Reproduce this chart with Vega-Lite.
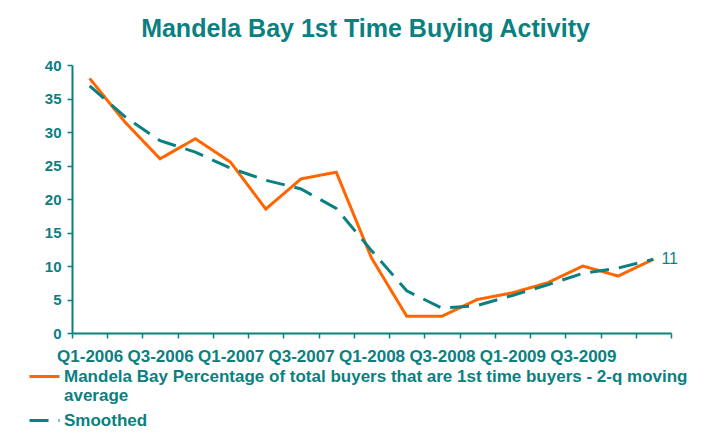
{
  "$schema": "https://vega.github.io/schema/vega-lite/v6.json",
  "width": 599,
  "height": 268,
  "autosize": {"type": "none"},
  "padding": {"left": 72, "top": 65, "right": 36, "bottom": 100},
  "background": "white",
  "title": {
    "text": "Mandela Bay 1st Time Buying Activity",
    "fontSize": 25,
    "font": "Liberation Sans",
    "fontWeight": "bold",
    "color": "#0B8080",
    "anchor": "middle",
    "dx": -6,
    "offset": 16
  },
  "config": {
    "view": {"stroke": null},
    "font": "Liberation Sans",
    "axis": {
      "grid": false,
      "domainColor": "#0B8080",
      "domainWidth": 2,
      "tickColor": "#0B8080",
      "tickWidth": 1.5,
      "tickSize": 5,
      "labelColor": "#0B8080",
      "labelFont": "Liberation Sans",
      "labelFontWeight": "bold",
      "labelFontSize": 15,
      "labelOverlap": false,
      "title": null
    },
    "legend": {
      "orient": "none",
      "legendX": -44,
      "legendY": 295,
      "direction": "vertical",
      "title": null,
      "symbolType": "stroke",
      "symbolSize": 900,
      "symbolStrokeWidth": 3,
      "labelFont": "Liberation Sans",
      "labelFontSize": 17,
      "labelFontWeight": "bold",
      "labelColor": "#0B8080",
      "labelLimit": 1000,
      "labelOffset": 3,
      "rowPadding": 0
    }
  },
  "data": {
    "values": [
      {"q": "Q1-2006", "series": "Mandela Bay Percentage of total buyers that are 1st time buyers - 2-q moving average", "value": 38},
      {"q": "Q2-2006", "series": "Mandela Bay Percentage of total buyers that are 1st time buyers - 2-q moving average", "value": 31.5},
      {"q": "Q3-2006", "series": "Mandela Bay Percentage of total buyers that are 1st time buyers - 2-q moving average", "value": 26},
      {"q": "Q4-2006", "series": "Mandela Bay Percentage of total buyers that are 1st time buyers - 2-q moving average", "value": 29},
      {"q": "Q1-2007", "series": "Mandela Bay Percentage of total buyers that are 1st time buyers - 2-q moving average", "value": 25.5},
      {"q": "Q2-2007", "series": "Mandela Bay Percentage of total buyers that are 1st time buyers - 2-q moving average", "value": 18.5},
      {"q": "Q3-2007", "series": "Mandela Bay Percentage of total buyers that are 1st time buyers - 2-q moving average", "value": 23},
      {"q": "Q4-2007", "series": "Mandela Bay Percentage of total buyers that are 1st time buyers - 2-q moving average", "value": 24},
      {"q": "Q1-2008", "series": "Mandela Bay Percentage of total buyers that are 1st time buyers - 2-q moving average", "value": 11.2},
      {"q": "Q2-2008", "series": "Mandela Bay Percentage of total buyers that are 1st time buyers - 2-q moving average", "value": 2.5},
      {"q": "Q3-2008", "series": "Mandela Bay Percentage of total buyers that are 1st time buyers - 2-q moving average", "value": 2.5},
      {"q": "Q4-2008", "series": "Mandela Bay Percentage of total buyers that are 1st time buyers - 2-q moving average", "value": 5},
      {"q": "Q1-2009", "series": "Mandela Bay Percentage of total buyers that are 1st time buyers - 2-q moving average", "value": 6},
      {"q": "Q2-2009", "series": "Mandela Bay Percentage of total buyers that are 1st time buyers - 2-q moving average", "value": 7.5},
      {"q": "Q3-2009", "series": "Mandela Bay Percentage of total buyers that are 1st time buyers - 2-q moving average", "value": 10},
      {"q": "Q4-2009", "series": "Mandela Bay Percentage of total buyers that are 1st time buyers - 2-q moving average", "value": 8.5},
      {"q": "Q1-2010", "series": "Mandela Bay Percentage of total buyers that are 1st time buyers - 2-q moving average", "value": 11},
      {"q": "Q1-2006", "series": "Smoothed", "value": 36.9},
      {"q": "Q2-2006", "series": "Smoothed", "value": 32.3},
      {"q": "Q3-2006", "series": "Smoothed", "value": 28.7},
      {"q": "Q4-2006", "series": "Smoothed", "value": 27},
      {"q": "Q1-2007", "series": "Smoothed", "value": 24.6},
      {"q": "Q2-2007", "series": "Smoothed", "value": 22.8},
      {"q": "Q3-2007", "series": "Smoothed", "value": 21.5},
      {"q": "Q4-2007", "series": "Smoothed", "value": 18.6},
      {"q": "Q1-2008", "series": "Smoothed", "value": 12.3},
      {"q": "Q2-2008", "series": "Smoothed", "value": 6.3},
      {"q": "Q3-2008", "series": "Smoothed", "value": 3.7},
      {"q": "Q4-2008", "series": "Smoothed", "value": 4.1},
      {"q": "Q1-2009", "series": "Smoothed", "value": 5.6},
      {"q": "Q2-2009", "series": "Smoothed", "value": 7.2},
      {"q": "Q3-2009", "series": "Smoothed", "value": 8.9},
      {"q": "Q4-2009", "series": "Smoothed", "value": 9.7},
      {"q": "Q1-2010", "series": "Smoothed", "value": 11}
    ]
  },
  "encoding": {
    "x": {
      "field": "q",
      "type": "ordinal",
      "sort": null,
      "scale": {"type": "band", "paddingInner": 0, "paddingOuter": 0},
      "axis": {
        "labelAngle": 0,
        "tickBand": "extent",
        "labelPadding": 10,
        "labelFontSize": 17,
        "labelExpr": "indexof(['Q1-2006','Q3-2006','Q1-2007','Q3-2007','Q1-2008','Q3-2008','Q1-2009','Q3-2009'], datum.value) >= 0 ? datum.value : ''"
      }
    },
    "y": {
      "field": "value",
      "type": "quantitative",
      "scale": {"domain": [0, 40]},
      "axis": {"values": [0, 5, 10, 15, 20, 25, 30, 35, 40], "labelPadding": 6}
    }
  },
  "layer": [
    {
      "mark": {"type": "line", "strokeWidth": 3, "strokeCap": "butt"},
      "encoding": {
        "color": {
          "field": "series",
          "type": "nominal",
          "sort": null,
          "scale": {
            "domain": ["Mandela Bay Percentage of total buyers that are 1st time buyers - 2-q moving average", "Smoothed"],
            "range": ["#FF6600", "#0B8080"]
          },
          "legend": {
            "labelExpr": "datum.value === 'Smoothed' ? 'Smoothed' : ['Mandela Bay Percentage of total buyers that are 1st time buyers - 2-q moving', 'average']"
          }
        },
        "strokeDash": {
          "field": "series",
          "type": "nominal",
          "sort": null,
          "scale": {
            "domain": ["Mandela Bay Percentage of total buyers that are 1st time buyers - 2-q moving average", "Smoothed"],
            "range": [[1, 0], [19, 10]]
          },
          "legend": {
            "labelExpr": "datum.value === 'Smoothed' ? 'Smoothed' : ['Mandela Bay Percentage of total buyers that are 1st time buyers - 2-q moving', 'average']"
          }
        }
      }
    },
    {
      "transform": [{"filter": "datum.q === 'Q1-2010' && datum.series === 'Smoothed'"}],
      "mark": {"type": "text", "align": "left", "baseline": "middle", "dx": 8, "fontSize": 16, "color": "#0B8080", "font": "Liberation Sans"},
      "encoding": {
        "text": {"field": "value", "type": "quantitative"}
      }
    }
  ]
}
